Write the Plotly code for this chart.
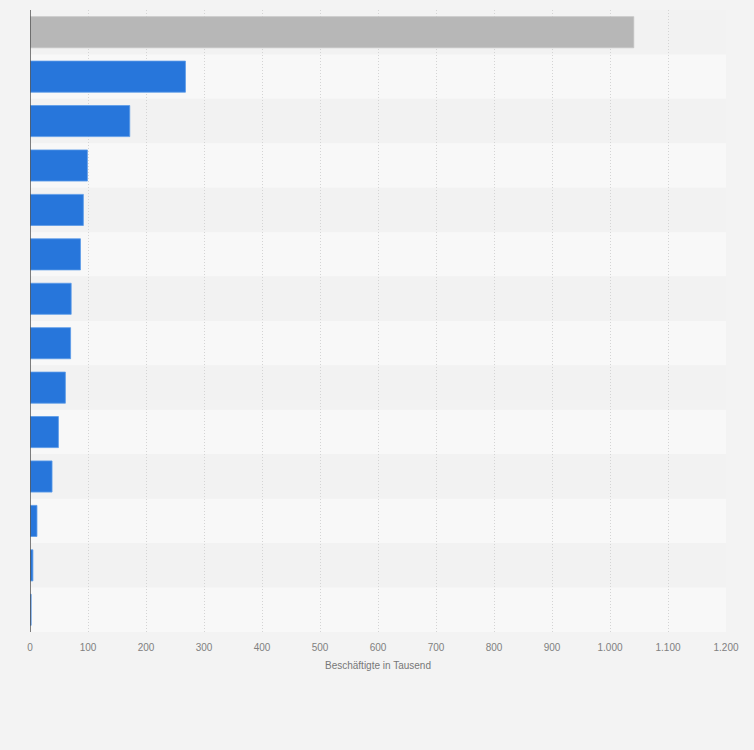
import plotly.graph_objects as go

# ── Data (in thousands) ──────────────────────────────────────────────────────
categories = [f"Kategorie {i}" for i in range(1, 15)]
values = [1041, 268, 172, 99, 92, 87, 71, 70, 61, 49, 38, 12, 5, 2]
highlight = [True] + [False] * 13

x_ticks = list(range(0, 1300, 100))
x_tick_labels = ["0", "100", "200", "300", "400", "500", "600", "700",
                 "800", "900", "1.000", "1.100", "1.200"]

BLUE = "#2776db"
GREY = "#b7b7b7"

colors = [GREY if h else BLUE for h in highlight]
line_colors = ["#c4c4c4" if h else "#5a9ae8" for h in highlight]

fig = go.Figure(go.Bar(
    y=categories, x=values, orientation="h",
    marker=dict(color=colors, line=dict(color=line_colors, width=0.8)),
    width=0.7,
    hovertemplate="%{x}<extra></extra>",
))

# alternating row bands
shapes = []
for i in range(len(categories)):
    shapes.append(dict(
        type="rect", xref="paper", yref="y", layer="below",
        x0=0, x1=1, y0=i - 0.5, y1=i + 0.5,
        fillcolor="#f2f2f2" if i % 2 == 0 else "#f8f8f8",
        line=dict(width=0),
    ))

fig.update_layout(
    width=754, height=750,
    paper_bgcolor="#f3f3f3", plot_bgcolor="#f3f3f3",
    margin=dict(l=30, r=28, t=10, b=118),
    shapes=shapes,
    showlegend=False,
    font=dict(family="Liberation Sans, Arial, sans-serif", color="#777777"),
    xaxis=dict(
        range=[0, 1200], tickvals=x_ticks, ticktext=x_tick_labels,
        showgrid=True, gridcolor="#d4d4d4", griddash="1px,2px", gridwidth=1,
        zeroline=False, showline=False, ticks="",
        tickfont=dict(size=10, color="#808080"),
        ticklabelstandoff=8,
        title=dict(text="Beschäftigte in Tausend", font=dict(size=10, color="#777777"),
                   standoff=9),
        layer="above traces",
    ),
    yaxis=dict(
        autorange=False, range=[13.5, -0.5], showticklabels=False, showgrid=False,
        zeroline=False, showline=False, ticks="",
    ),
)
# dark axis line at x = 0
fig.add_shape(type="line", xref="x", yref="paper", x0=0, x1=0, y0=0, y1=1,
              line=dict(color="#555555", width=1.5), layer="above")

fig.write_html(
    "out.html",
    config={"displayModeBar": False},
    post_script="document.body.style.margin='0';document.body.style.background='#f3f3f3';",
)
